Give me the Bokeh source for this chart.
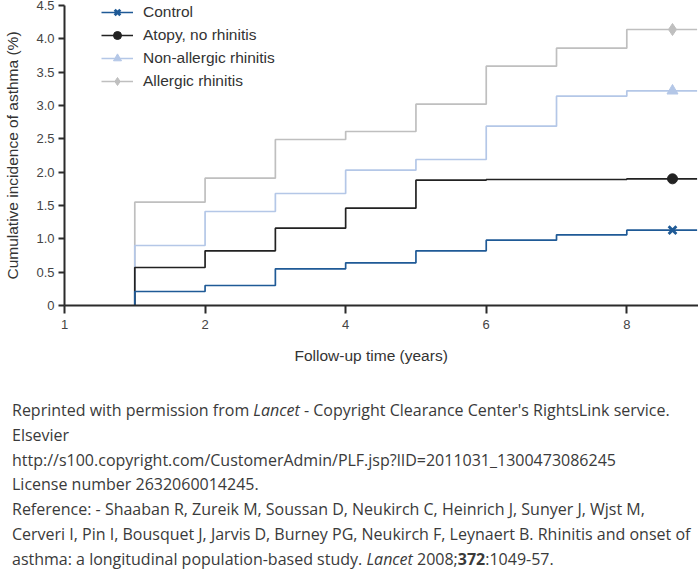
from bokeh.plotting import figure
from bokeh.models import FixedTicker, Legend, LegendItem, Range1d, Div, Title
from bokeh.layouts import column
from bokeh.embed import file_html
from bokeh.resources import INLINE

# ---- data ----
step_years = [1, 2, 3, 4, 5, 6, 7, 8]
end_year = 9
marker_year = 8.65

control = [0.21, 0.30, 0.55, 0.64, 0.82, 0.98, 1.06, 1.13]
atopy = [0.57, 0.82, 1.16, 1.46, 1.88, 1.89, 1.89, 1.90]
nonallergic = [0.90, 1.41, 1.68, 2.03, 2.19, 2.69, 3.14, 3.22]
allergic = [1.55, 1.91, 2.49, 2.61, 3.02, 3.59, 3.86, 4.14]

series_names = ["Control", "Atopy, no rhinitis", "Non-allergic rhinitis", "Allergic rhinitis"]

x_tick_values = [0, 2, 4, 6, 8]
x_tick_labels = ["1", "2", "4", "6", "8"]
y_tick_values = [0, 0.5, 1.0, 1.5, 2.0, 2.5, 3.0, 3.5, 4.0, 4.5]
y_tick_labels = ["0", "0.5", "1.0", "1.5", "2.0", "2.5", "3.0", "3.5", "4.0", "4.5"]

x_title = "Follow-up time (years)"
y_title = "Cumulative incidence of asthma (%)"

caption_lines = [
    "Reprinted with permission from <i>Lancet</i> - Copyright Clearance Center's RightsLink service.",
    "Elsevier",
    "http://s100.copyright.com/CustomerAdmin/PLF.jsp?lID=2011031_1300473086245",
    "License number 2632060014245.",
    "Reference: - Shaaban R, Zureik M, Soussan D, Neukirch C, Heinrich J, Sunyer J, Wjst M,",
    "Cerveri I, Pin I, Bousquet J, Jarvis D, Burney PG, Neukirch F, Leynaert B. Rhinitis and onset of",
    "asthma: a longitudinal population-based study. <i>Lancet</i> 2008;<b>372</b>:1049-57.",
]

# ---- figure ----
FONT = "Liberation Sans"
p = figure(
    frame_width=634, frame_height=300,
    x_range=Range1d(0, 9.02), y_range=Range1d(0, 4.5),
    output_backend="svg", toolbar_location=None,
    min_border_left=64, min_border_right=0, min_border_top=5, min_border_bottom=75,
    margin=0,
)
p.outline_line_color = None
p.grid.visible = False
p.background_fill_color = "white"

for ax in (p.xaxis[0], p.yaxis[0]):
    ax.axis_line_color = "#2b2b2b"
    ax.axis_line_width = 2
    ax.major_tick_line_color = "#2b2b2b"
    ax.major_tick_line_width = 2
    ax.major_tick_in = 0
    ax.minor_tick_line_color = None
    ax.major_label_text_font = FONT
    ax.major_label_text_font_size = "13px"
    ax.major_label_text_color = "#444444"
    ax.axis_label_text_font = FONT
    ax.axis_label_text_font_size = "15.5px"
    ax.axis_label_text_font_style = "normal"
    ax.axis_label_text_color = "#333333"

p.xaxis.ticker = FixedTicker(ticks=x_tick_values)
p.xaxis.major_label_overrides = {v: l for v, l in zip(x_tick_values, x_tick_labels)}
p.xaxis.major_tick_out = 8
p.xaxis.major_label_standoff = 6

p.yaxis.ticker = FixedTicker(ticks=y_tick_values)
p.yaxis.major_label_overrides = {v: l for v, l in zip(y_tick_values, y_tick_labels)}
p.yaxis.major_tick_out = 6
p.yaxis.major_label_standoff = 4
p.yaxis.axis_label = y_title
p.yaxis.axis_label_standoff = 12

# x-axis title sits a little left of the frame centre in the original
p.add_layout(Title(
    text=x_title, align="left", offset=230, standoff=26,
    text_font=FONT, text_font_size="15.5px", text_color="#333333",
    text_font_style="normal",
), "below")

colors = ["#1f5a96", "#222222", "#b4c7e7", "#bfbfbf"]
values = [control, atopy, nonallergic, allergic]
markers = ["x", "circle", "triangle", "diamond"]
msizes = [11, 10, 11, 12]

xs = [step_years[0]] + step_years + [end_year]
renderers = {}
# draw from back (allergic) to front (control)
for i in [3, 2, 1, 0]:
    vals = values[i]
    ys = [0] + vals + [vals[-1]]
    ln = p.step(xs, ys, mode="after", line_color=colors[i], line_width=1.7)
    if markers[i] == "x":
        mk = p.scatter([marker_year], [vals[-1]], marker="x", size=msizes[i],
                       line_color=colors[i], line_width=2.8)
    else:
        mk = p.scatter([marker_year], [vals[-1]], marker=markers[i], size=msizes[i],
                       fill_color=colors[i], line_color=colors[i])
    renderers[i] = [ln, mk]

legend = Legend(
    items=[LegendItem(label=series_names[i], renderers=renderers[i]) for i in range(4)],
    location=(37, 214),
    padding=0, margin=0, spacing=3,
    glyph_width=32, glyph_height=20, label_height=20, label_standoff=10,
    label_text_font=FONT, label_text_font_size="15.5px", label_text_color="#333333",
    border_line_color=None, background_fill_alpha=0,
)
p.add_layout(legend)

caption = Div(
    text="<div style=\"font-family:'Open Sans';font-size:16px;line-height:24.8px;"
         "color:#3a3a3a;white-space:nowrap;\">" + "<br>".join(caption_lines) + "</div>",
    margin=(18, 0, 0, 12),
)

layout = column(p, caption)
open("out.html", "w").write(file_html(layout, INLINE))
